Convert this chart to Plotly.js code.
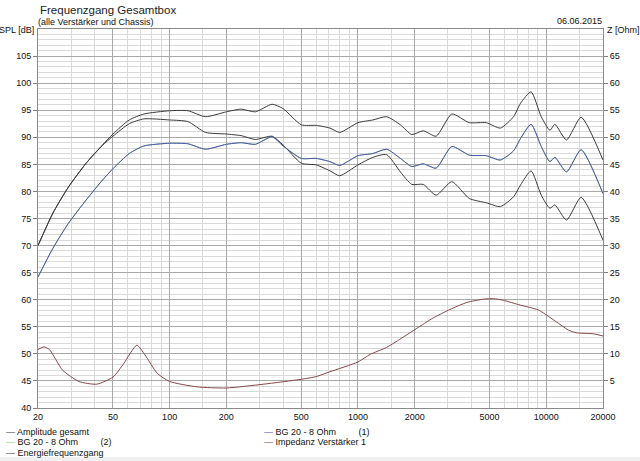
<!DOCTYPE html>
<html>
<head>
<meta charset="utf-8">
<script src="https://cdn.plot.ly/plotly-3.0.1.min.js"></script>
<style>html,body{margin:0;padding:0;background:#fff;}#chart{width:640px;height:461px;}</style>
</head>
<body>
<div id="chart"></div>
<script>
// ---- data ----
const splFreq = [20, 24, 29, 36, 44, 50, 61, 73, 100, 125, 155, 200, 240, 285, 350, 400, 500, 600, 710, 800, 1000, 1200, 1420, 1680, 1930, 2220, 2600, 3150, 3900, 4800, 5700, 6700, 7300, 8300, 9400, 10450, 11100, 12800, 15300, 20000];
const amplitudeGesamt = [70.0, 76.0, 80.8, 85.2, 88.6, 90.6, 93.2, 94.3, 94.9, 94.9, 93.8, 94.7, 95.2, 94.7, 96.1, 95.3, 92.3, 92.2, 91.7, 90.9, 92.7, 93.2, 93.8, 92.3, 90.5, 91.2, 90.2, 94.3, 92.7, 92.7, 91.7, 93.8, 96.3, 98.4, 93.8, 91.3, 92.4, 89.5, 93.7, 85.8];
const energiefrequenzgang = [70.0, 76.0, 80.8, 85.2, 88.5, 90.2, 92.5, 93.4, 93.2, 92.9, 90.9, 90.6, 90.3, 89.6, 90.2, 88.6, 85.2, 84.9, 83.8, 82.9, 84.9, 86.3, 86.8, 83.6, 81.3, 81.3, 79.3, 81.8, 78.7, 77.9, 77.2, 79.0, 81.2, 83.8, 79.3, 76.9, 77.5, 74.7, 78.9, 71.0];
const bg20Ohm1 = [64.2, 69.5, 74.1, 78.4, 82.1, 84.2, 87.0, 88.4, 88.9, 88.8, 87.8, 88.7, 89.0, 88.7, 90.1, 88.4, 86.1, 86.1, 85.5, 84.8, 86.6, 87.0, 87.8, 86.1, 84.6, 85.1, 84.3, 88.3, 86.7, 86.6, 85.8, 87.5, 89.8, 92.4, 88.3, 85.5, 86.3, 83.6, 87.7, 79.6];
const bg20Ohm2 = bg20Ohm1; // drawn underneath series (1), not visible separately

const impFreq = [20, 21.5, 23, 27, 33, 41, 50, 57, 67, 74, 86, 100, 140, 200, 315, 500, 600, 710, 1000, 1160, 1420, 1740, 2050, 2500, 3080, 3790, 4630, 5240, 5900, 7280, 9080, 10900, 13100, 14400, 17800, 20000];
const impedanzVerstaerker1 = [10.8, 11.3, 10.8, 7.0, 4.9, 4.4, 5.7, 8.2, 11.6, 9.8, 6.4, 4.9, 3.9, 3.7, 4.4, 5.3, 5.8, 6.7, 8.5, 9.9, 11.2, 13.1, 14.7, 16.6, 18.2, 19.5, 20.1, 20.2, 19.9, 19.0, 18.1, 16.3, 14.4, 13.9, 13.7, 13.3];

const xTickVals = [20, 50, 100, 200, 500, 1000, 2000, 5000, 10000, 20000];
const xTickText = ['20', '50', '100', '200', '500', '1000', '2000', '5000', '10000', '20000'];
const xMinorVals = [30, 40, 60, 70, 80, 90, 150, 300, 400, 600, 700, 800, 900, 1500, 3000, 4000, 6000, 7000, 8000, 9000, 15000];
const ySplTicks = [40, 45, 50, 55, 60, 65, 70, 75, 80, 85, 90, 95, 100, 105];
const yOhmTicks = [5, 10, 15, 20, 25, 30, 35, 40, 45, 50, 55, 60, 65];

const legendLeft = ['Amplitude gesamt', 'BG 20 - 8 Ohm\u00a0\u00a0\u00a0\u00a0\u00a0\u00a0\u00a0\u00a0\u00a0(2)', 'Energiefrequenzgang'];
const legendRight = ['BG 20 - 8 Ohm\u00a0\u00a0\u00a0\u00a0\u00a0\u00a0\u00a0\u00a0\u00a0(1)', 'Impedanz Verstärker 1'];

// ---- styling ----
const C_DARK = '#3a3a3a', C_BLUE = '#5050b0', C_GREEN = '#80d080', C_IMP = '#854848';
const SMALL = {family: '"Liberation Sans Narrow", "Arial Narrow", "Liberation Sans", Arial, sans-serif', size: 9, color: '#111'};

const traces = [
  {x: splFreq, y: bg20Ohm2, name: 'BG 20 - 8 Ohm (2)', mode: 'lines', line: {color: C_GREEN, width: 1, shape: 'spline', smoothing: 0.6}},
  {x: splFreq, y: energiefrequenzgang, name: 'Energiefrequenzgang', mode: 'lines', line: {color: C_DARK, width: 1, shape: 'spline', smoothing: 0.6}},
  {x: splFreq, y: amplitudeGesamt, name: 'Amplitude gesamt', mode: 'lines', line: {color: C_DARK, width: 1, shape: 'spline', smoothing: 0.6}},
  {x: splFreq, y: bg20Ohm1, name: 'BG 20 - 8 Ohm (1)', mode: 'lines', line: {color: C_BLUE, width: 1, shape: 'spline', smoothing: 0.6}},
  {x: impFreq, y: impedanzVerstaerker1, name: 'Impedanz Verstärker 1', yaxis: 'y2', mode: 'lines', line: {color: C_IMP, width: 1, shape: 'spline', smoothing: 0.6}}
];

const H = 379; // plot height in px for paper conversions
function py(p) { return (408 - p) / H; }
function px(p) { return (p - 38) / 565; }

const annotations = [
  {text: 'Frequenzgang Gesamtbox', x: px(38), y: py(10), xref: 'paper', yref: 'paper', xanchor: 'left', yanchor: 'middle', showarrow: false, font: {family: '"Liberation Sans", Arial, sans-serif', size: 11.5, color: '#222'}},
  {text: '(alle Verstärker und Chassis)', x: px(36), y: py(22), xref: 'paper', yref: 'paper', xanchor: 'left', yanchor: 'middle', showarrow: false, font: SMALL},
  {text: '06.06.2015', x: px(604), y: py(21), xref: 'paper', yref: 'paper', xanchor: 'right', yanchor: 'middle', showarrow: false, font: SMALL},
  {text: 'SPL [dB]', x: px(36), y: py(30), xref: 'paper', yref: 'paper', xanchor: 'right', yanchor: 'middle', showarrow: false, font: SMALL},
  {text: 'Z [Ohm]', x: px(605), y: py(30), xref: 'paper', yref: 'paper', xanchor: 'left', yanchor: 'middle', showarrow: false, font: SMALL}
];
const leftColors = [C_DARK, C_GREEN, C_DARK];
const rowsY = [432, 442.5, 453];
legendLeft.forEach((t, i) => annotations.push({text: '<span style="color:' + leftColors[i] + '">—</span> ' + t, x: px(4), y: py(rowsY[i]), xref: 'paper', yref: 'paper', xanchor: 'left', yanchor: 'middle', showarrow: false, font: SMALL}));
const rightColors = [C_BLUE, C_IMP];
legendRight.forEach((t, i) => annotations.push({text: '<span style="color:' + rightColors[i] + '">—</span> ' + t, x: px(262), y: py(rowsY[i]), xref: 'paper', yref: 'paper', xanchor: 'left', yanchor: 'middle', showarrow: false, font: SMALL}));

const layout = {
  width: 640, height: 461,
  margin: {l: 38, r: 37, t: 29, b: 53, pad: 0},
  paper_bgcolor: '#ffffff', plot_bgcolor: '#ffffff',
  font: SMALL,
  showlegend: false,
  xaxis: {
    type: 'log', range: [Math.log10(20), Math.log10(20000)],
    tickmode: 'array', tickvals: xTickVals, ticktext: xTickText,
    showgrid: true, gridcolor: '#a8a8a8', gridwidth: 1,
    minor: {tickmode: 'array', tickvals: xMinorVals, showgrid: true, gridcolor: '#dadada', gridwidth: 1, ticks: ''},
    showline: true, linecolor: '#8a8a8a', mirror: true, ticks: '', zeroline: false,
    tickfont: SMALL
  },
  yaxis: {
    range: [40, 110], tickmode: 'array', tickvals: ySplTicks,
    showgrid: true, gridcolor: '#a8a8a8', gridwidth: 1,
    minor: {dtick: 1, showgrid: true, gridcolor: '#dadada', gridwidth: 1, ticks: ''},
    showline: true, linecolor: '#8a8a8a', mirror: true,
    ticks: 'outside', ticklen: 4, tickcolor: '#808080', zeroline: false,
    tickfont: SMALL
  },
  yaxis2: {
    overlaying: 'y', side: 'right', range: [0, 70], tickmode: 'array', tickvals: yOhmTicks,
    showgrid: false, zeroline: false, showline: false,
    ticks: 'outside', ticklen: 4, tickcolor: '#808080',
    tickfont: SMALL
  },
  shapes: [
    {type: 'rect', xref: 'paper', yref: 'paper', x0: px(0), x1: px(640), y0: py(457), y1: py(461), fillcolor: '#f0f0f0', line: {width: 0}, layer: 'below'}
  ],
  annotations: annotations
};

Plotly.newPlot('chart', traces, layout, {displayModeBar: false, staticPlot: true});
</script>
</body>
</html>
